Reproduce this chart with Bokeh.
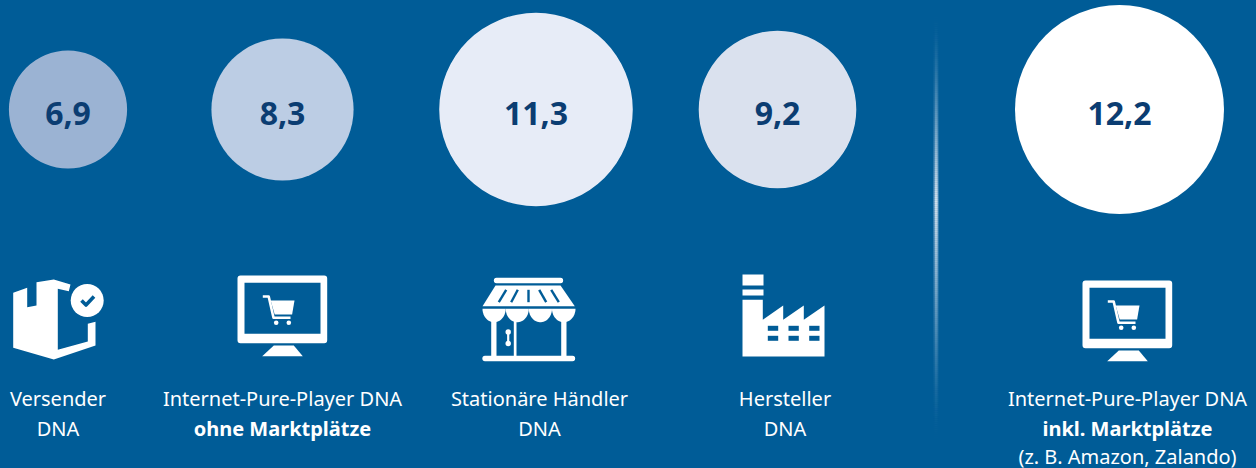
import numpy as np
from bokeh.plotting import figure
from bokeh.models import ColumnDataSource, Range1d
from bokeh.core.properties import value
from bokeh.embed import file_html
from bokeh.resources import INLINE

# ---- data ----
categories = ["Versender DNA", "Internet-Pure-Player DNA ohne Marktplätze",
              "Stationäre Händler DNA", "Hersteller DNA",
              "Internet-Pure-Player DNA inkl. Marktplätze"]
values = [6.9, 8.3, 11.3, 9.2, 12.2]
value_labels = ["6,9", "8,3", "11,3", "9,2", "12,2"]
line1 = ["Versender", "Internet-Pure-Player DNA", "Stationäre Händler", "Hersteller", "Internet-Pure-Player DNA"]
line2 = ["DNA", "ohne Marktplätze", "DNA", "DNA", "inkl. Marktplätze"]
line2_bold = [False, True, False, False, True]
line3 = ["", "", "", "", "(z. B. Amazon, Zalando)"]

# ---- layout / style ----
W, H = 1256, 468
BG = "#005c97"
INK = "#0b3d72"
FONT = "Noto Sans"
bubble_x = [67.5, 282, 535.5, 777, 1119]
bubble_y = 109
label_x = [57.5, 282, 539, 784.5, 1127]
bubble_colors = ["#9bb3d3", "#bccde4", "#e7ecf7", "#dae1ee", "#ffffff"]
PX_PER_UNIT = 17.13

p = figure(width=W, height=H, x_range=Range1d(0, W), y_range=Range1d(H, 0),
           output_backend="svg", toolbar_location=None, min_border=0,
           background_fill_color=BG, border_fill_color=BG, outline_line_color=None)
p.axis.visible = False
p.grid.visible = False

# separator with a vertical glow
ys = np.arange(8, 446, 2.0)
t = np.where(ys < 200, (ys - 8) / 192, (446 - ys) / 246)
glow = np.clip(t, 0, 1) ** 1.7
p.quad(left=933, right=938, top=ys, bottom=ys + 2, fill_color="#cfdcef",
       fill_alpha=glow * 0.6, line_color=None)
p.quad(left=934.5, right=937, top=ys, bottom=ys + 2, fill_color="#ffffff",
       fill_alpha=glow * 0.65, line_color=None)

# bubbles
src = ColumnDataSource(dict(x=bubble_x, y=[bubble_y] * 5,
                            r=[v * PX_PER_UNIT / 2 for v in values],
                            c=bubble_colors, t=value_labels, cat=categories))
p.circle("x", "y", radius="r", fill_color="c", line_color=None, source=src)
p.text("x", "y", text="t", source=src, text_font=value(FONT), text_font_style="bold",
       text_font_size="32px", text_color=INK, text_align="center", text_baseline="middle",
       y_offset=4)

# labels
def labels(ys_, texts, xs, style="normal"):
    xx = [x for x, s in zip(xs, texts) if s]
    tt = [s for s in texts if s]
    if not xx:
        return
    p.text(xx, [ys_] * len(xx), text=tt, text_font=value(FONT), text_font_style=style,
           text_font_size="20px", text_color="#ffffff", text_align="center",
           text_baseline="middle")

labels(397.5, line1, label_x)
labels(427.5, [s if not b else "" for s, b in zip(line2, line2_bold)], label_x)
labels(427.5, [s if b else "" for s, b in zip(line2, line2_bold)], label_x, "bold")
labels(455.5, line3, label_x)

WHITE = "#ffffff"

def poly(xs, ys, c=WHITE, **kw):
    p.patch(xs, ys, fill_color=c, line_color=None, **kw)

def stroke(xs, ys, w, c=WHITE, cap="round"):
    p.line(xs, ys, line_color=c, line_width=w, line_cap=cap, line_join="round")

# box icon
poly([12.7, 26.7, 26.7, 36, 36, 53.3, 70, 68.3, 57.3, 57.3, 87.3, 87.3, 95, 95, 53.3, 12.7],
     [292.3, 287.3, 306.7, 305, 281.7, 279, 284, 290.7, 288.3, 349.3, 341, 323.3, 321.3, 345, 359, 347.3])
p.circle([86.7], [300], radius=16.5, fill_color=WHITE, line_color=None)
stroke([81, 85.5, 93.5], [300, 304.5, 296], 3.6, BG, "butt")

# monitor icon
def monitor(dx, dy):
    X = lambda a: [v + dx for v in a]
    Y = lambda a: [v + dy for v in a]
    p.patch(X([240, 323.7, 323.7, 240]), Y([278, 278, 339.7, 339.7]), fill_color=WHITE,
            line_color=WHITE, line_width=6, line_join="round")
    poly(X([244, 320, 320, 244]), Y([282.3, 282.3, 333.3, 333.3]), BG)
    poly(X([273.3, 293.3, 302.3, 261.7]), Y([345, 345, 355.7, 355.7]))
    stroke(X([262.3, 268.2, 273, 290]), Y([296, 296, 317.3, 317.3]), 2.6, WHITE, "butt")
    poly(X([270.2, 294, 291.6, 274.2]), Y([300, 300, 314, 314]))
    p.circle(X([275.7, 288.3]), Y([322.3, 322.3]), radius=2.3, fill_color=WHITE, line_color=None)

monitor(0, 0)
monitor(845, 5)

# shop icon
stroke([496, 560], [280, 280], 5.3)
poly([495, 560, 574.3, 482], [285, 285, 305.7, 305.7])
for a, b, c, d in [(498.3, 505.7, 301.7, 289.3), (510.7, 517.3, 301.7, 289.3), (528, 528, 301.7, 289.3),
                   (545.7, 538.7, 301.7, 289.3), (558.3, 550.7, 301.7, 289.3)]:
    stroke([a, b], [c, d], 2.4, BG, "butt")
ang = np.linspace(0, np.pi, 30)
for x0, x1 in [(482, 505.2), (505.2, 528.3), (528.3, 551.5), (551.5, 575)]:
    cx, rx = (x0 + x1) / 2, (x1 - x0) / 2
    poly(list(cx + rx * np.cos(ang)), list(308.3 + 13.4 * np.sin(ang)))
for x0, x1 in [(490.7, 496), (513.3, 516), (560.7, 566)]:
    poly([x0, x1, x1, x0], [318, 318, 356, 356])
stroke([484.5, 572], [358, 358], 5.3)
stroke([507.7, 507.7], [332, 342.5], 2.2)
p.circle([507.7, 507.7], [331.5, 343], radius=2.7, fill_color=WHITE, line_color=None)

# factory icon
poly([742, 763, 763, 742], [274, 274, 285, 285])
poly([742, 763, 763, 742], [289, 289, 295, 295])
poly([742, 762.3, 762.3, 782.7, 782.7, 803.3, 803.3, 824, 824, 742],
     [299.3, 299.3, 319.3, 305, 319.3, 305, 319.3, 305, 356, 356])
for x0, x1 in [(767.3, 777.7), (788, 798.3), (808.7, 819)]:
    for y0, y1 in [(325.3, 330.3), (335.3, 340.3)]:
        poly([x0, x1, x1, x0], [y0, y0, y1, y1], BG)

html = file_html(p, INLINE)
html = html.replace("<head>", "<head><style>html,body{margin:0;padding:0;background:%s;overflow:hidden}</style>" % BG, 1)
open("out.html", "w").write(html)
